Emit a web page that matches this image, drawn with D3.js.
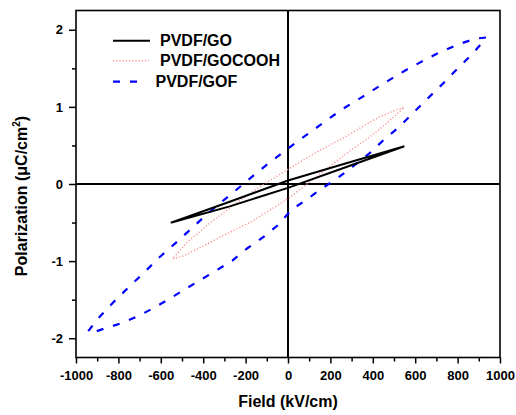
<!DOCTYPE html>
<html>
<head>
<meta charset="utf-8">
<script src="https://cdn.jsdelivr.net/npm/d3@7"></script>
<style>
  html, body { margin: 0; padding: 0; background: #fff; }
  svg { display: block; font-family: "Liberation Sans", Arial, sans-serif; }
</style>
</head>
<body>
<svg id="chart" width="516" height="415"></svg>
<script>
// ---------------- DATA ----------------
const seriesNames = ["PVDF/GO", "PVDF/GOCOOH", "PVDF/GOF"];

// PVDF/GO loop (field kV/cm, polarization µC/cm²)
const goField = [549, 275, 0, -275, -549, -275, 0, 275, 549];
const goPol   = [0.49, 0.27, 0.045, -0.23, -0.50, -0.29, -0.05, 0.22, 0.49];

// PVDF/GOCOOH loop
const gocoohField = [546, 500, 410, 269, 127, 0, -130, -245, -371, -481, -544, -500, -410, -300, -167, 0, 127, 269, 410, 500, 546];
const gocoohPol   = [0.99, 0.95, 0.84, 0.61, 0.40, 0.19, -0.03, -0.25, -0.51, -0.77, -0.97, -0.94, -0.82, -0.66, -0.48, -0.19, 0.08, 0.38, 0.66, 0.87, 0.99];

// PVDF/GOF loop
const gofField = [934, 900, 874, 803, 725, 651, 563, 489, 418, 343, 269, 198, 108, 38, -30, -108, -179, -250, -321, -391, -466, -536, -610, -678, -756, -827, -898, -937, -945,
                  -910, -858, -780, -709, -635, -560, -489, -410, -332, -261, -195, -117, -46, 14, 88, 159, 230, 305, 384, 454, 525, 588, 659, 730, 800, 871, 918, 934];
const gofPol   = [1.90, 1.89, 1.876, 1.811, 1.72, 1.617, 1.488, 1.367, 1.246, 1.116, 0.992, 0.858, 0.677, 0.54, 0.397, 0.233, 0.073, -0.09, -0.25, -0.414, -0.604, -0.78, -0.96, -1.147, -1.35, -1.543, -1.75, -1.89, -1.915,
                  -1.915, -1.867, -1.80, -1.716, -1.61, -1.49, -1.37, -1.24, -1.11, -0.99, -0.84, -0.69, -0.53, -0.34, -0.20, -0.06, 0.07, 0.224, 0.397, 0.578, 0.741, 0.915, 1.109, 1.30, 1.497, 1.69, 1.84, 1.90];

const xMajorTicks = [-1000, -800, -600, -400, -200, 0, 200, 400, 600, 800, 1000];
const xMinorTicks = [-900, -700, -500, -300, -100, 100, 300, 500, 700, 900];
const yMajorTicks = [-2, -1, 0, 1, 2];
const yMinorTicks = [-1.5, -0.5, 0.5, 1.5];

// ---------------- LAYOUT ----------------
const svg = d3.select("#chart");
const L = 76, R = 500, T = 10.5, B = 357.5;
const x = d3.scaleLinear().domain([-1000, 1000]).range([L, R]);
const y = d3.scaleLinear().domain([-2.25, 2.25]).range([B, T]);

const fmt = d => String(d).replace("\u2212", "-");

const xAxis = svg.append("g").attr("transform", `translate(0,${B})`)
  .call(d3.axisBottom(x).tickValues(xMajorTicks).tickSize(6).tickPadding(7).tickFormat(fmt));
const xAxisMinor = svg.append("g").attr("transform", `translate(0,${B})`)
  .call(d3.axisBottom(x).tickValues(xMinorTicks).tickSize(4).tickFormat(""));
const yAxis = svg.append("g").attr("transform", `translate(${L},0)`)
  .call(d3.axisLeft(y).tickValues(yMajorTicks).tickSize(7).tickPadding(6).tickFormat(fmt));
const yAxisMinor = svg.append("g").attr("transform", `translate(${L},0)`)
  .call(d3.axisLeft(y).tickValues(yMinorTicks).tickSize(4).tickFormat(""));

[xAxis, xAxisMinor, yAxis, yAxisMinor].forEach(g => {
  g.select(".domain").remove();
  g.selectAll(".tick line").attr("stroke", "#000").attr("stroke-width", 1.5);
  g.selectAll(".tick text").attr("fill", "#000").style("font-size", "13px").style("font-weight", "bold")
    .style("font-family", "'Liberation Sans', Arial, sans-serif");
});

// frame
svg.append("rect").attr("x", L).attr("y", T).attr("width", R - L).attr("height", B - T)
  .attr("fill", "none").attr("stroke", "#000").attr("stroke-width", 1.6);

// zero lines
svg.append("line").attr("x1", x(0)).attr("x2", x(0)).attr("y1", T).attr("y2", B)
  .attr("stroke", "#000").attr("stroke-width", 2);
svg.append("line").attr("x1", L).attr("x2", R).attr("y1", y(0)).attr("y2", y(0))
  .attr("stroke", "#000").attr("stroke-width", 2);

// series
const zip = (fx, py) => fx.map((f, i) => [f, py[i]]);
const line = d3.line().x(d => x(d[0])).y(d => y(d[1]));

const styles = [
  { data: zip(goField, goPol), stroke: "#000000", width: 2, dash: null },
  { data: zip(gocoohField, gocoohPol), stroke: "#ff9090", width: 1.4, dash: "1.2,2" },
  { data: zip(gofField, gofPol), stroke: "#0000ff", width: 2.2, dash: "7,10" }
];

[2, 1, 0].forEach(i => {
  const s = styles[i];
  svg.append("path").datum(s.data).attr("d", line)
    .attr("fill", "none").attr("stroke", s.stroke).attr("stroke-width", s.width)
    .attr("stroke-linejoin", "round")
    .attr("stroke-dasharray", s.dash);
});

// legend
const legendRows = [
  { y: 40.7, x1: 113, x2: 150, tx: 160 },
  { y: 60.7, x1: 113, x2: 149, tx: 160 },
  { y: 81.7, x1: 113, x2: 138, tx: 155.5 }
];
legendRows.forEach((r, i) => {
  const s = styles[i];
  svg.append("line").attr("x1", r.x1).attr("x2", r.x2).attr("y1", r.y).attr("y2", r.y)
    .attr("stroke", s.stroke).attr("stroke-width", s.width).attr("stroke-dasharray", s.dash);
  svg.append("text").attr("x", r.tx).attr("y", r.y + 5.6).text(seriesNames[i])
    .style("font-size", "16px").style("font-weight", "bold").attr("fill", "#000");
});

// axis titles
svg.append("text").attr("x", 288).attr("y", 407).attr("text-anchor", "middle")
  .style("font-size", "16px").style("font-weight", "bold").text("Field (kV/cm)");

const yt = svg.append("text").attr("transform", "translate(27,196) rotate(-90)")
  .attr("text-anchor", "middle").style("font-size", "16px").style("font-weight", "bold");
yt.append("tspan").text("Polarization (\u03bcC/cm");
yt.append("tspan").attr("dy", -7).style("font-size", "10px").text("2");
yt.append("tspan").attr("dy", 7).text(")");
</script>
</body>
</html>
